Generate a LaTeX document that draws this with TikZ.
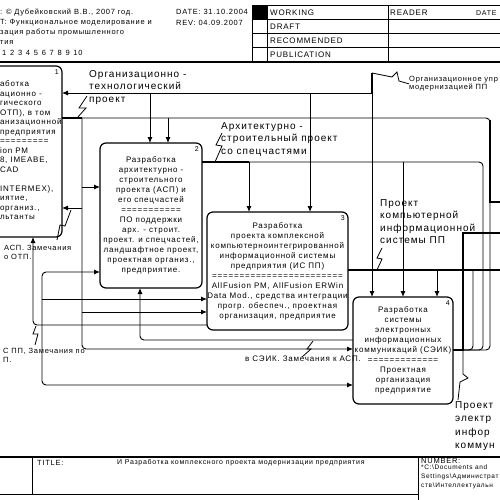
\documentclass[tikz,border=0pt]{standalone}
\usepackage{fontspec}
\setmainfont{Liberation Sans}[LetterSpace=10]
\usetikzlibrary{positioning,arrows.meta}

\tikzset{
  func/.style={draw, line width=1.2pt, rounded corners=6pt, inner sep=0pt, outer sep=0pt, align=center, font=\fontsize{8}{10}\selectfont},
  boxno/.style={font=\fontsize{7}{8}\selectfont, inner sep=0pt, anchor=north east},
  wire/.style={line width=0.9pt},
  flow/.style={wire, -{Latex[length=6pt,width=5pt]}},
  fat/.style={line width=2.8pt},
  squig/.style={line width=0.8pt},
  biglabel/.style={font=\fontsize{10}{12.5}\selectfont, align=left, anchor=north west, inner sep=0pt},
  note/.style={font=\fontsize{7.5}{10}\selectfont, align=left, anchor=north west, inner sep=0pt},
  hdr/.style={font=\fontsize{7.5}{9}\selectfont, anchor=west, inner sep=0pt},
  tabline/.style={line width=1pt},
}

\begin{document}
\begin{tikzpicture}[x=1pt, y=-1pt]
  \useasboundingbox (0,0) rectangle (500,500);
  \clip (0,0) rectangle (500,500);

  % header
  \foreach \y in {6,20,34,48} \draw[tabline] (252,\y) -- (500,\y);
  \foreach \x in {252,267,388} \draw[tabline] (\x,6) -- (\x,62);
  \draw[line width=1.6pt] (0,62) -- (500,62);
  \node(au) [hdr] at (0,12) {: © Дубейковский В.В., 2007 год.};
  \node(pr) [hdr] at (0,23) {T: Функциональное моделирование и};
  \node(pr2) [hdr] at (0,33) {зация работы промышленного};
  \node(pr3) [hdr] at (0,43) {тия};
  \node(nt) [hdr] at (2,53) {1\enspace 2\enspace 3\enspace 4\enspace 5\enspace 6\enspace 7\enspace 8\enspace 9\enspace 10};
  \node(dt) [hdr] at (176,12) {DATE: 31.10.2004};
  \node(rv) [hdr] at (176,23) {REV: 04.09.2007};
  \fill (252,6) rectangle (267,20);
  \node(wk) [hdr, font=\fontsize{8}{9}\selectfont] at (270,13) {WORKING};
  \node(dr) [hdr, font=\fontsize{8}{9}\selectfont] at (270,27) {DRAFT};
  \node(rc) [hdr, font=\fontsize{8}{9}\selectfont] at (270,41) {RECOMMENDED};
  \node(pb) [hdr, font=\fontsize{8}{9}\selectfont] at (270,55) {PUBLICATION};
  \node(rd) [hdr, font=\fontsize{8}{9}\selectfont] at (390,13) {READER};
  \node(rdt) [hdr, font=\fontsize{7}{9}\selectfont] at (476,13) {DATE};

  % function boxes
  \node(b1) [func, minimum width=110pt, minimum height=171pt] at (7,151.5) {};
  \node(t1) [func, draw=none, align=left, anchor=north west, font=\fontsize{8}{9.5}\selectfont] at (0,81)
    {аботка\\ационно -\\гического\\ОТП), в том\\анизационной\\предприятия\\=========\\ion PM\\8, IMEABE,\\CAD\\ \\INTERMEX),\\иятие,\\организ.,\\льтанты};
  \node(b2) [func, minimum width=102pt, minimum height=145pt] at (151,215.5)
    {Разработка\\архитектурно -\\строительного\\проекта (АСП) и\\его спецчастей\\===========\\ПО поддержки\\арх. - строит.\\проект. и спецчастей,\\ландшафтное проект,\\проектная организ.,\\предприятие.};
  \node(b3) [func, minimum width=141pt, minimum height=118pt] at (277.5,271)
    {Разработка\\проекта комплексной\\компьютерноинтегрированной\\информационной системы\\предприятия (ИС ПП)\\========================\\AllFusion PM, AllFusion ERWin\\Data Mod., средства интеграции\\прогр. обеспеч., проектная\\организация, предприятие};
  \node(b4) [func, minimum width=100pt, minimum height=107pt] at (403,350.5)
    {Разработка\\системы\\электронных\\информационных\\коммуникаций (СЭИК)\\=============\\Проектная\\организация\\предприятие};
  \node(n1) [boxno] at ([shift={(-3,3)}]b1.north east) {1};
  \node(n2) [boxno] at ([shift={(-3,3)}]b2.north east) {2};
  \node(n3) [boxno] at ([shift={(-3,3)}]b3.north east) {3};
  \node(n4) [boxno] at ([shift={(-3,3)}]b4.north east) {4};

  % junctions
  \coordinate (ou) at (372,73);
  \coordinate (ouj) at (372,93);
  \coordinate (c1) at (150,93);
  \coordinate (c2) at (310,93);
  \coordinate (j1) at (82,118);
  \coordinate (j2) at (168,118);
  \coordinate (r1) at (490,340);
  \coordinate (j3) at (249,162);
  \coordinate (j4) at (403,162);
  \coordinate (r2) at (483,340);
  \coordinate (j5) at (437,270);
  \coordinate (e3) at (500,270);
  \coordinate (jo) at (463,350);
  \coordinate (k4) at (463,233);
  \coordinate (e4) at (500,233);
  \coordinate (r3) at (473,270);
  \coordinate (s0) at (490,120);
  \coordinate (s1) at (490,202);
  \coordinate (e5) at (500,202);
  \coordinate (i1) at (82,187);
  \coordinate (i2) at (82,208);
  \coordinate (i3) at (82,312);
  \coordinate (i4) at (82,349);
  \coordinate (f1) at (33,325);
  \coordinate (f2) at (42,385);
  \coordinate (f3) at (42,272);
  \coordinate (f4) at (42,299);
  \coordinate (f6) at (140,340);

  % control from above
  \draw[fat] (ou) -- (ouj);
  \draw[flow] (ouj) -- (b4.north -| ouj);
  \draw[flow] (ouj) -- (b1.east |- ouj);
  \draw[flow] (c1) -- (b2.north -| c1);
  \draw[flow] (c2) -- (b3.north -| c2);

  % outputs
  \draw[fat] (b1.east |- j1) -- (j1);
  \draw[wire, rounded corners=4pt] (j1) -| (r1) |- (jo);
  \draw[flow] (j2) -- (b2.north -| j2);
  \draw[flow, rounded corners=4pt] (j1) |- (b4.west |- i4);
  \draw[flow] (i1) -- (b2.west |- i1);
  \draw[flow] (i2) -- (b1.east |- i2);
  \draw[flow] (i3) -- (b3.west |- i3);

  \draw[fat] (b2.east |- j3) -- (j3);
  \draw[flow] (j3) -- (b3.north -| j3);
  \draw[wire, rounded corners=4pt] (j3) -| (r2) |- (jo);
  \draw[flow] (j4) -- (b4.north -| j4);

  \draw[fat] (b3.east |- j5) -- (e3);
  \draw[flow] (j5) -- (b4.north -| j5);
  \draw[wire, rounded corners=4pt] (r3) |- (jo);

  \draw[fat] (b4.east |- jo) -- (jo) -- (k4) -- (e4);
  \draw[fat] (s0) -- (s1) -- (e5);

  % feedback
  \draw[flow, rounded corners=4pt] (b3.west |- f1) -| (b1.south -| f1);
  \draw[wire, {Latex[length=6pt,width=5pt]}-{Latex[length=6pt,width=5pt]}, rounded corners=4pt] (b2.west |- f3) -| (f2) -- (b4.west |- f2);
  \draw[flow] (f4) -- (b3.west |- f4);
  \draw[flow, rounded corners=4pt] (b4.west |- f6) -| (b2.south -| f6);

  % labels
  \node(lou) [note, font=\fontsize{7.5}{8.5}\selectfont] at (409,76) {Организационное упр\\модернизацией ПП};
  \draw[squig] (ou) -- (392,77) -- (397,72) -- (399,81) -- (lou.west);
  \node(lotp) [biglabel] at (89,70) {Организационно -\\технологический\\проект};
  \draw[squig] (87,96) -- (79,108) -- (86,108) -- (77,118);
  \node(lasp) [biglabel] at (221,122) {Архитектурно -\\строительный проект\\со спецчастями};
  \draw[squig] (222,133) -- (216,145) -- (222,146) -- (215,162);
  \node(lis) [biglabel] at (380,199) {Проект\\компьютерной\\информационной\\системы ПП};
  \draw[squig] (382,248) -- (377,258) -- (382,259) -- (377,270);
  \node(lsei) [biglabel, font=\fontsize{10}{13.5}\selectfont] at (455,401) {Проект\\электр\\инфор\\коммун};
  \draw[squig] (jo) -- (463,374) -- (468,378) -- (460,382) -- (458,400);
  \node(lrem1) [note] at (4,245) {АСП. Замечания\\[-1pt]о ОТП.};
  \draw[squig] (71,210) -- (65,226) -- (60,225) -- (57,240);
  \node(lrem2) [note] at (3,348) {С ПП, Замечания по\\[-1pt]П.};
  \draw[squig] (36,326) -- (33,334) -- (38,334) -- (35,345);
  \node(lrem3) [note, font=\fontsize{8}{10}\selectfont] at (245,356) {в СЭИК. Замечания к АСП.};
  \draw[squig] (313,341) -- (307,349) -- (311,349) -- (302,357);

  % title block
  \draw[line width=1.4pt] (0,457) -- (500,457);
  \draw[tabline] (0,494) -- (418,494);
  \draw[tabline] (32,457) -- (32,494);
  \draw[tabline] (418,457) -- (418,500);
  \node(tt) [hdr] at (37,463) {TITLE:};
  \node(ttx) [hdr, font=\fontsize{7}{8}\selectfont] at (117,463) {И Разработка комплексного проекта модернизации предприятия};
  \node(nb) [hdr, font=\fontsize{7.5}{8}\selectfont] at (421,461) {NUMBER:};
  \node(nbx) [note, font=\fontsize{6.5}{9}\selectfont] at (421,465) {*C:\textbackslash Documents and\\Settings\textbackslash Администрат\\ств\textbackslash Интеллектуальн};
\end{tikzpicture}
\end{document}
